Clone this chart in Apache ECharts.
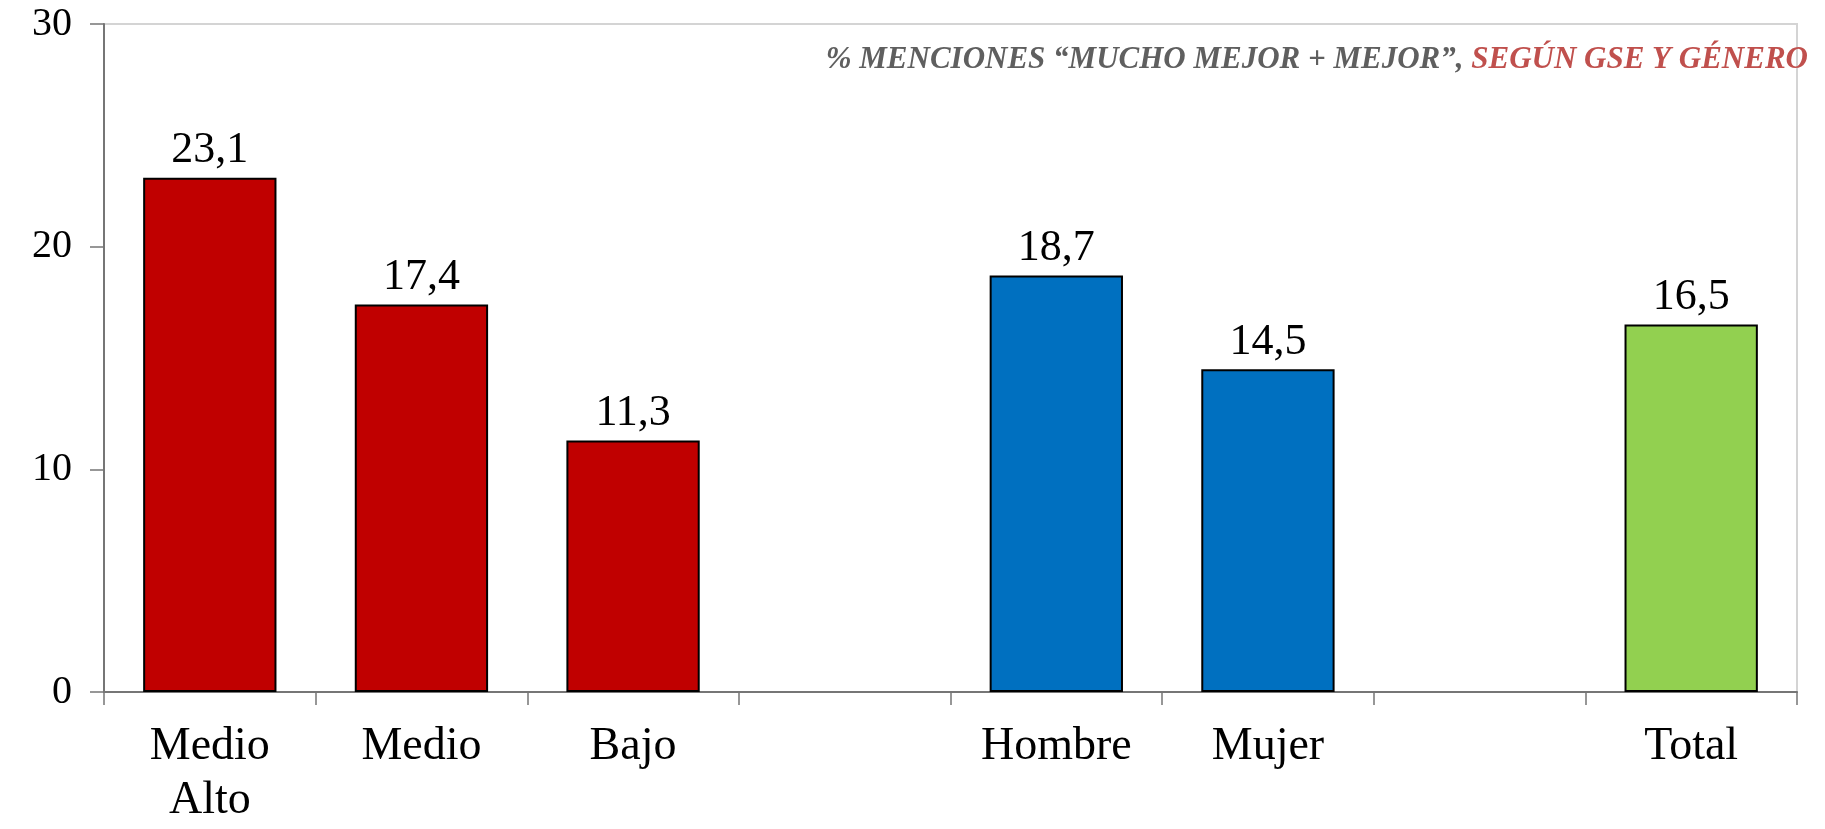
<!DOCTYPE html>
<html><head><meta charset="utf-8">
<script src="https://cdn.jsdelivr.net/npm/echarts@6/dist/echarts.min.js"></script>
<style>html,body{margin:0;padding:0;background:#fff}#c{width:1825px;height:829px}</style>
</head><body><div id="c"></div>
<script>
const categories = ['Medio\nAlto', 'Medio', 'Bajo', '', 'Hombre', 'Mujer', '', 'Total'];
const values = [23.1, 17.4, 11.3, null, 18.7, 14.5, null, 16.5];
const barColors = ['#C00000', '#C00000', '#C00000', '#C00000', '#0070C0', '#0070C0', '#92D050', '#92D050'];
const yTicks = [0, 10, 20, 30];

const chart = echarts.init(document.getElementById('c'));
const serif = '"Liberation Serif", "DejaVu Serif", serif';
chart.setOption({
  animation: false,
  grid: { left: 104, right: 28, top: 24, bottom: 137, show: true, borderColor: '#d4d4d4', borderWidth: 2 },
  title: {
    text: '{g|% MENCIONES “MUCHO MEJOR + MEJOR”, }{r|SEGÚN GSE Y GÉNERO}',
    right: 12, top: 39,
    textStyle: {
      rich: {
        g: { fontFamily: serif, fontStyle: 'italic', fontWeight: 'bold', fontSize: 31, color: '#5F5F5F' },
        r: { fontFamily: serif, fontStyle: 'italic', fontWeight: 'bold', fontSize: 31, color: '#C0504D' }
      }
    }
  },
  xAxis: {
    type: 'category',
    data: categories,
    axisLine: { lineStyle: { color: '#767676', width: 2 } },
    axisTick: { show: true, length: 13, lineStyle: { color: '#767676', width: 1.5 } },
    axisLabel: { fontFamily: serif, fontSize: 46, color: '#000', margin: 28, lineHeight: 54, interval: 0 }
  },
  yAxis: {
    type: 'value', min: 0, max: 30, interval: 10,
    axisLine: { show: true, lineStyle: { color: '#767676', width: 2 } },
    axisTick: { show: true, length: 14, lineStyle: { color: '#767676', width: 1.5 } },
    splitLine: { show: false },
    axisLabel: { fontFamily: serif, fontSize: 40, color: '#000', margin: 32,
      formatter: v => yTicks.includes(v) ? String(v) : '' }
  },
  series: [{
    type: 'bar',
    barWidth: '63%',
    data: values.map((v, i) => ({ value: v, itemStyle: { color: barColors[i] } })),
    itemStyle: { borderColor: '#000', borderWidth: 2 },
    label: {
      show: true, position: 'top', distance: 5,
      fontFamily: serif, fontSize: 44, color: '#000',
      formatter: p => p.value == null ? '' : String(p.value).replace('.', ',')
    }
  }]
});
</script></body></html>
